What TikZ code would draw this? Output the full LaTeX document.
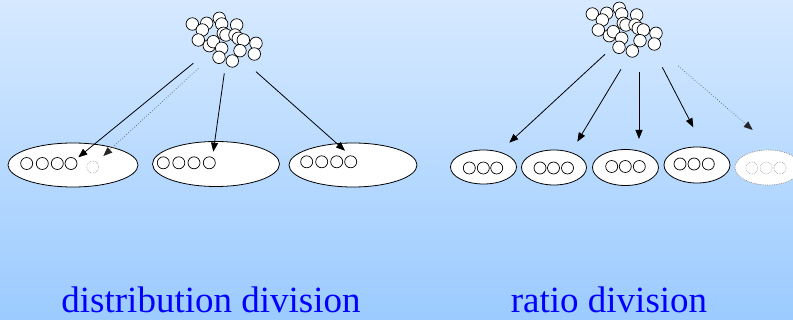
\documentclass[tikz,border=0pt]{standalone}
\usepackage{fontspec}
\setmainfont{Liberation Serif}
\usetikzlibrary{shapes.geometric,arrows.meta}
\definecolor{bgtop}{RGB}{214,233,255}
\definecolor{bgbot}{RGB}{155,203,255}
\definecolor{ghost}{RGB}{150,150,150}
\definecolor{ghostline}{RGB}{90,90,100}
\begin{document}
\begin{tikzpicture}[x=1pt,y=-1pt,
  ball/.style={circle,draw=black,fill=white,line width=0.7pt,minimum size=12.5pt,inner sep=0pt},
  tok/.style={circle,draw=black,fill=white,line width=0.7pt,minimum size=12pt,inner sep=0pt},
  ghosttok/.style={circle,draw=ghost,densely dotted,fill=white,line width=0.6pt,minimum size=12pt,inner sep=0pt},
  bag/.style={ellipse,draw=black,fill=white,line width=0.8pt,inner sep=0pt},
  ghostbag/.style={ellipse,draw=ghost,densely dotted,fill=white,line width=0.8pt,inner sep=0pt},
  arr/.style={-{Triangle[length=9pt,width=7pt]},line width=0.8pt},
  ghostarr/.style={-{Triangle[length=9pt,width=7pt,fill=black!85,color=black!85]},dotted,line width=0.7pt,draw=ghostline},
  lbl/.style={font=\fontsize{37}{40}\selectfont,text=blue,anchor=base}
]
\shade[top color=bgtop,bottom color=bgbot] (0,0) rectangle (793,320);
\useasboundingbox (0,0) rectangle (793,320);
\clip (0,0) rectangle (793,320);

% clusters
\foreach \cx/\cy [count=\i] in {192.3/24,206.7/23.3,202.3/30,219.3/18.3,221.7/24,236.7/25,198.3/40,209.3/45.7,213.3/41.7,223.3/33.3,226/35,235/35,238.3/38.3,243.3/40,256/43.3,221.7/48.3,240/50.7,254.3/54,219/57.3,232.3/61}{
  \node[ball] (c\i) at (\cx,\cy) {};
  \node[ball] (d\i) at (\cx+400,\cy-10) {};
}

% left bags
\node[bag,minimum width=130pt,minimum height=44pt] (e1) at (73,165) {};
\node[bag,minimum width=127pt,minimum height=45pt] (e2) at (216,164) {};
\node[bag,minimum width=128pt,minimum height=44pt] (e3) at (353,165) {};
\foreach \x [count=\i] in {26.7,42.3,57.3,71}{\node[tok] (ea\i) at (\x,163.5) {};}
\node[ghosttok] (ea5) at (92.7,167) {};
\foreach \x [count=\i] in {163.3,178.8,194,209.3}{\node[tok] (eb\i) at (\x,162.8) {};}
\foreach \x [count=\i] in {306.7,321.7,336.7,350.7}{\node[tok] (ec\i) at (\x,161.8) {};}

% right bags
\node[bag,minimum width=66pt,minimum height=34pt] (r1) at (483.5,167) {};
\node[bag,minimum width=65pt,minimum height=35pt] (r2) at (554,167.5) {};
\node[bag,minimum width=66pt,minimum height=36pt] (r3) at (625.5,167.5) {};
\node[bag,minimum width=66pt,minimum height=36pt] (r4) at (697,165) {};
\node[ghostbag,minimum width=66pt,minimum height=35pt] (r5) at (768,167.5) {};
\foreach \x [count=\i] in {469.3,483.3,496.7}{\node[tok] (ra\i) at (\x,168) {};}
\foreach \x [count=\i] in {540,553.5,567.5}{\node[tok] (rb\i) at (\x,168) {};}
\foreach \x [count=\i] in {611.7,625.3,639.3}{\node[tok] (rc\i) at (\x,166.5) {};}
\foreach \x [count=\i] in {680,694,708.3}{\node[tok] (rd\i) at (\x,164) {};}
\foreach \x [count=\i] in {751.7,766.2,780}{\node[ghosttok] (re\i) at (\x,168) {};}

% arrow end points
\coordinate (s1) at (193.3,63.3);  \coordinate (t1) at (78.3,157.3);
\coordinate (s2) at (198.3,68.3);  \coordinate (t2) at (103.3,156);
\coordinate (s3) at (224.3,73.3);  \coordinate (t3) at (213.3,151.7);
\coordinate (s4) at (256,71.7);    \coordinate (t4) at (345,150.7);
\coordinate (u1) at (605,54.3);    \coordinate (v1) at (509.3,142.7);
\coordinate (u2) at (621,69.3);    \coordinate (v2) at (577.3,141.7);
\coordinate (u3) at (639,72.3);    \coordinate (v3) at (639,139);
\coordinate (u4) at (662.3,67.3);  \coordinate (v4) at (693.3,127.3);
\coordinate (u5) at (678.3,66);    \coordinate (v5) at (752.7,130);

\draw[arr] (s1) -- (t1);
\draw[ghostarr] (s2) -- (t2);
\draw[arr] (s3) -- (t3);
\draw[arr] (s4) -- (t4);
\draw[arr] (u1) -- (v1);
\draw[arr] (u2) -- (v2);
\draw[arr] (u3) -- (v3);
\draw[arr] (u4) -- (v4);
\draw[ghostarr] (u5) -- (v5);

\node[lbl] (lab1) at (211,313) {distribution division};
\node[lbl] (lab2) at (609,313) {ratio division};
\end{tikzpicture}
\end{document}
